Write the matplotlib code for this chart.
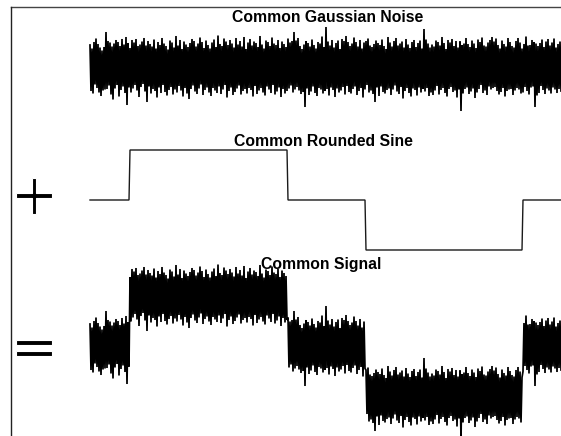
import numpy as np
import matplotlib.pyplot as plt
from matplotlib.lines import Line2D
import matplotlib.patheffects as pe

# noise samples, in hundredths of the step height
noise_hundredths = [
    44, -48, 37, -53, 50, -35, 57, -42, 46, -51, 39, -58, 33, -47, 40, -45, 70, -44, 52, -37,
    49, -55, 41, -65, 47, -43, 54, -36, 50, -59, 42, -46, 56, -39, 45, -52, 60, -76, 48, -41,
    38, -51, 54, -43, 49, -36, 56, -47, 42, -60, 45, -40, 51, -34, 58, -49, 43, -70, 52, -39,
    46, -53, 41, -44, 55, -48, 37, -61, 50, -41, 44, -52, 58, -36, 47, -50, 42, -57, 35, -46,
    53, -40, 49, -55, 39, -45, 62, -51, 43, -38, 54, -47, 36, -59, 51, -42, 45, -53, 40, -64,
    48, -44, 56, -37, 52, -49, 41, -54, 47, -43, 59, -35, 50, -56, 38, -46, 53, -41, 44, -51,
    37, -58, 49, -42, 55, -47, 40, -52, 63, -39, 46, -54, 42, -45, 57, -36, 51, -61, 44, -48,
    54, -41, 47, -56, 39, -50, 58, -43, 45, -37, 52, -55, 41, -48, 60, -44, 36, -53, 49, -42,
    56, -46, 43, -59, 51, -38, 48, -54, 40, -47, 62, -42, 45, -51, 37, -57, 53, -39, 50, -45,
    42, -52, 59, -36, 47, -55, 44, -49, 54, -41, 38, -60, 51, -44, 46, -53, 40, -48, 57, -43,
    49, -37, 52, -51, 70, -45, 53, -40, 58, -47, 42, -54, 36, -50, 45, -80, 52, -43, 48, -56,
    41, -49, 55, -39, 44, -52, 37, -58, 50, -42, 47, -45, 61, -53, 40, -48, 80, -44, 51, -57,
    43, -41, 54, -46, 39, -60, 48, -43, 53, -51, 36, -47, 56, -40, 52, -55, 62, -38, 50, -50,
    42, -53, 47, -44, 59, -39, 50, -56, 41, -48, 54, -42, 37, -61, 49, -45, 52, -36, 57, -51,
    43, -47, 40, -54, 46, -70, 53, -41, 48, -58, 44, -39, 55, -50, 42, -53, 36, -46, 60, -43,
    49, -56, 41, -45, 52, -37, 58, -49, 43, -54, 47, -40, 51, -63, 39, -48, 56, -42, 45, -52,
    38, -59, 50, -43, 54, -46, 40, -57, 48, -41, 53, -51, 37, -44, 76, -49, 55, -42, 47, -58,
    39, -51, 45, -56, 41, -47, 53, -38, 50, -55, 43, -46, 60, -42, 48, -52, 36, -59, 54, -44,
    49, -40, 56, -50, 42, -47, 52, -61, 39, -45, 51, -88, 44, -53, 47, -44, 58, -41, 46, -54,
    40, -49, 53, -43, 47, -62, 38, -51, 55, -44, 50, -36, 59, -52, 43, -47, 41, -56, 49, -39,
    54, -45, 60, -42, 51, -40, 57, -48, 44, -55, 37, -50, 53, -42, 46, -59, 41, -48, 58, -45,
    50, -44, 42, -56, 39, -47, 52, -42, 58, -45, 49, -53, 37, -51, 46, -40, 61, -48, 43, -55,
    44, -41, 54, -39, 50, -80, 47, -57, 42, -52, 48, -38, 55, -46, 40, -54, 51, -43, 56, -47,
    43, -53, 49, -41, 57, -45, 39, -52, 46, -44, 51, -48,
]

# rounded sine: levels and how many samples each level lasts
step_levels = [0, 1, 0, -1, 0]
step_lengths = [40, 158, 78, 157, 39]

titles = ["Common Gaussian Noise", "Common Rounded Sine", "Common Signal"]

noise = np.array(noise_hundredths) / 100.0
rounded_sine = np.repeat(step_levels, step_lengths).astype(float)
signal = noise + rounded_sine
x = np.arange(len(noise))

W, H = 561, 436
fig = plt.figure(figsize=(W / 100, H / 100), dpi=100)

def panel(cy, y, lw, color):
    ax = fig.add_axes([90 / W, (H - cy - 50) / H, 471 / W, 100 / H])
    ax.plot(x, y, color=color, lw=lw, clip_on=False, solid_joinstyle='miter')
    ax.set_xlim(0, len(x) - 1)
    ax.set_ylim(-1, 1)
    ax.axis('off')
    return ax

panel(67, noise, 1.25, 'black')
panel(200, rounded_sine, 1.0, '#1a1a1a')
panel(346, signal, 1.25, 'black')

title_font = dict(family='Liberation Sans', fontweight='bold', fontsize=11.3,
                  ha='center', va='baseline')
for t, (tx, ty) in zip(titles, [(327.5, 22), (323.5, 146), (321.5, 269)]):
    fig.text(tx / W, 1 - ty / H, t, **title_font)

# thin the big operator signs a bit
thin = [pe.Normal(), pe.Stroke(linewidth=0.8, foreground='white')]
fig.text(34 / W, 1 - 198 / H, '+', fontsize=41, family='DejaVu Sans',
         ha='center', va='center', path_effects=thin)
fig.text(34 / W, 1 - 350.5 / H, '=', fontsize=41, family='DejaVu Sans',
         ha='center', va='center', path_effects=thin)

# frame edges
fig.add_artist(Line2D([11 / W, 1], [1 - 7.5 / H] * 2, color='#444444', lw=1.0,
                      transform=fig.transFigure))
fig.add_artist(Line2D([11 / W] * 2, [0, 1 - 7.5 / H], color='#222222', lw=1.0,
                      transform=fig.transFigure))

fig.savefig('out.png', dpi=100)
